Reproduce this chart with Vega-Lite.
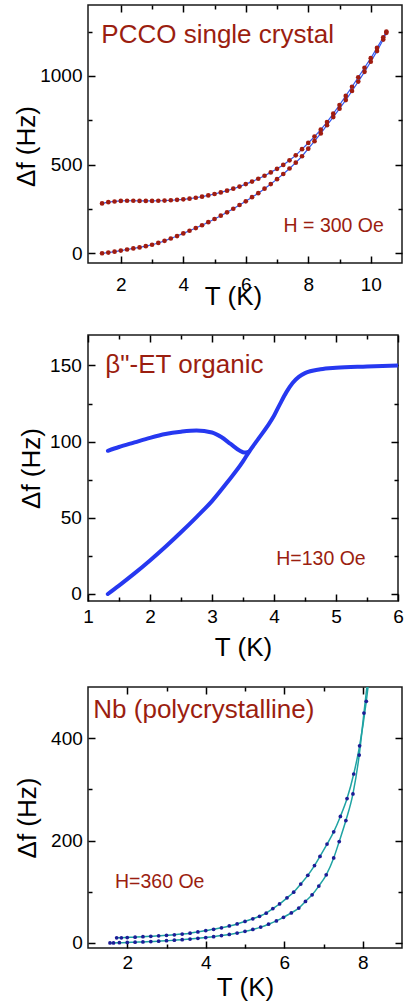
{
  "$schema": "https://vega.github.io/schema/vega-lite/v6.json",
  "padding": {"left": 3, "top": 3, "right": 0, "bottom": 0},
  "background": "white",
  "columns": 1,
  "align": "none",
  "spacing": 23,
  "config": {
    "font": "Liberation Sans",
    "view": {"stroke": "#1a1a1a", "strokeWidth": 1.5},
    "axis": {"grid": false, "labelFont": "Liberation Sans", "labelFontSize": 19, "labelColor": "#000000", "titleFont": "Liberation Sans", "titleFontSize": 26, "titleFontWeight": "normal", "titleColor": "#000000", "tickColor": "#000000", "tickWidth": 1.5, "tickOpacity": 1, "labelFlush": false, "labelOverlap": false, "labelBound": false, "minExtent": 0, "domain": false, "format": "d"},
    "text": {"font": "Liberation Sans"}
  },
  "concat": [
    {
      "width": 314, "height": 258,
      "data": {"values": [
        {"T":1.4,"f":0,"s":"zfc"},{"T":1.6,"f":4,"s":"zfc"},{"T":1.8,"f":9,"s":"zfc"},{"T":2.0,"f":15,"s":"zfc"},{"T":2.2,"f":21,"s":"zfc"},{"T":2.4,"f":27,"s":"zfc"},{"T":2.6,"f":33,"s":"zfc"},{"T":2.8,"f":40,"s":"zfc"},{"T":3.0,"f":48,"s":"zfc"},{"T":3.2,"f":58,"s":"zfc"},{"T":3.4,"f":70,"s":"zfc"},{"T":3.6,"f":83,"s":"zfc"},{"T":3.8,"f":97,"s":"zfc"},{"T":4.0,"f":112,"s":"zfc"},{"T":4.2,"f":127,"s":"zfc"},{"T":4.4,"f":142,"s":"zfc"},{"T":4.6,"f":158,"s":"zfc"},{"T":4.8,"f":175,"s":"zfc"},{"T":5.0,"f":193,"s":"zfc"},{"T":5.2,"f":212,"s":"zfc"},{"T":5.4,"f":231,"s":"zfc"},{"T":5.6,"f":251,"s":"zfc"},{"T":5.8,"f":272,"s":"zfc"},{"T":6.0,"f":293,"s":"zfc"},{"T":6.2,"f":316,"s":"zfc"},{"T":6.4,"f":339,"s":"zfc"},{"T":6.6,"f":364,"s":"zfc"},{"T":6.8,"f":390,"s":"zfc"},{"T":7.0,"f":418,"s":"zfc"},{"T":7.2,"f":447,"s":"zfc"},{"T":7.4,"f":478,"s":"zfc"},{"T":7.6,"f":511,"s":"zfc"},{"T":7.8,"f":547,"s":"zfc"},{"T":8.0,"f":590,"s":"zfc"},{"T":8.2,"f":632,"s":"zfc"},{"T":8.4,"f":676,"s":"zfc"},{"T":8.6,"f":722,"s":"zfc"},{"T":8.8,"f":768,"s":"zfc"},{"T":9.0,"f":815,"s":"zfc"},{"T":9.2,"f":864,"s":"zfc"},{"T":9.4,"f":915,"s":"zfc"},{"T":9.6,"f":968,"s":"zfc"},{"T":9.8,"f":1023,"s":"zfc"},{"T":10.0,"f":1080,"s":"zfc"},{"T":10.2,"f":1140,"s":"zfc"},{"T":10.4,"f":1205,"s":"zfc"},{"T":10.5,"f":1243,"s":"zfc"},
        {"T":1.4,"f":281,"s":"fc"},{"T":1.6,"f":288,"s":"fc"},{"T":1.8,"f":292,"s":"fc"},{"T":2.0,"f":295,"s":"fc"},{"T":2.2,"f":296,"s":"fc"},{"T":2.4,"f":296,"s":"fc"},{"T":2.6,"f":295,"s":"fc"},{"T":2.8,"f":295,"s":"fc"},{"T":3.0,"f":295,"s":"fc"},{"T":3.2,"f":296,"s":"fc"},{"T":3.4,"f":297,"s":"fc"},{"T":3.6,"f":299,"s":"fc"},{"T":3.8,"f":301,"s":"fc"},{"T":4.0,"f":304,"s":"fc"},{"T":4.2,"f":308,"s":"fc"},{"T":4.4,"f":313,"s":"fc"},{"T":4.6,"f":319,"s":"fc"},{"T":4.8,"f":326,"s":"fc"},{"T":5.0,"f":334,"s":"fc"},{"T":5.2,"f":343,"s":"fc"},{"T":5.4,"f":353,"s":"fc"},{"T":5.6,"f":364,"s":"fc"},{"T":5.8,"f":376,"s":"fc"},{"T":6.0,"f":390,"s":"fc"},{"T":6.2,"f":404,"s":"fc"},{"T":6.4,"f":420,"s":"fc"},{"T":6.6,"f":437,"s":"fc"},{"T":6.8,"f":456,"s":"fc"},{"T":7.0,"f":476,"s":"fc"},{"T":7.2,"f":498,"s":"fc"},{"T":7.4,"f":524,"s":"fc"},{"T":7.6,"f":552,"s":"fc"},{"T":7.8,"f":587,"s":"fc"},{"T":8.0,"f":622,"s":"fc"},{"T":8.2,"f":658,"s":"fc"},{"T":8.4,"f":697,"s":"fc"},{"T":8.6,"f":740,"s":"fc"},{"T":8.8,"f":787,"s":"fc"},{"T":9.0,"f":836,"s":"fc"},{"T":9.2,"f":887,"s":"fc"},{"T":9.4,"f":939,"s":"fc"},{"T":9.6,"f":992,"s":"fc"},{"T":9.8,"f":1046,"s":"fc"},{"T":10.0,"f":1100,"s":"fc"},{"T":10.2,"f":1158,"s":"fc"},{"T":10.4,"f":1218,"s":"fc"},{"T":10.5,"f":1250,"s":"fc"}
      ]},
      "layer": [
        {"mark": {"type": "line", "color": "#3358f0", "strokeWidth": 1.2, "clip": true},
         "encoding": {
           "x": {"field": "T", "type": "quantitative", "scale": {"domain": [0.95, 11], "nice": false, "zero": false},
                 "axis": {"orient": "bottom", "values": [2,4,6,8,10], "ticks": true, "tickSize": -7, "tickColor": "#000000", "tickWidth": 1.5, "labelPadding": 19.5, "title": "T (K)", "titlePadding": -11.5, "titleX": 145}},
           "y": {"field": "f", "type": "quantitative", "scale": {"domain": [-55, 1400], "nice": false, "zero": false},
                 "axis": {"orient": "left", "values": [0,500,1000], "ticks": true, "tickSize": -7, "tickColor": "#000000", "tickWidth": 1.5, "labelPadding": 13, "title": "Δf (Hz)", "titlePadding": 0, "titleY": 141}},
           "detail": {"field": "s"}
         }},
        {"mark": {"type": "point", "filled": true, "color": "#a01c10", "size": 22, "opacity": 1, "clip": true},
         "encoding": {"x": {"field": "T", "type": "quantitative", "axis": null}, "y": {"field": "f", "type": "quantitative", "axis": null}}},
        {"mark": {"type": "point", "opacity": 0, "clip": true},
         "encoding": {
           "x": {"field": "T", "type": "quantitative", "axis": {"orient": "top", "values": [2,4,6,8,10], "labels": false, "ticks": true, "tickSize": -7, "tickColor": "#000000", "tickWidth": 1.5, "title": null}},
           "y": {"field": "f", "type": "quantitative", "axis": {"orient": "right", "values": [0,500,1000], "labels": false, "ticks": true, "tickSize": -7, "tickColor": "#000000", "tickWidth": 1.5, "title": null}}}},
        {"mark": {"type": "point", "opacity": 0, "clip": true},
         "encoding": {
           "x": {"field": "T", "type": "quantitative", "axis": {"orient": "bottom", "values": [3,5,7,9], "labels": false, "ticks": true, "tickSize": -4, "tickColor": "#000000", "tickWidth": 1.5, "title": null}},
           "y": {"field": "f", "type": "quantitative", "axis": {"orient": "left", "values": [250,750,1250], "labels": false, "ticks": true, "tickSize": -4, "tickColor": "#000000", "tickWidth": 1.5, "title": ".", "titleX": -83, "titleFontSize": 1, "titleOpacity": 0}}}},
        {"mark": {"type": "point", "opacity": 0, "clip": true},
         "encoding": {
           "x": {"field": "T", "type": "quantitative", "axis": {"orient": "top", "values": [3,5,7,9], "labels": false, "ticks": true, "tickSize": -4, "tickColor": "#000000", "tickWidth": 1.5, "title": null}},
           "y": {"field": "f", "type": "quantitative", "axis": {"orient": "right", "values": [250,750,1250], "labels": false, "ticks": true, "tickSize": -4, "tickColor": "#000000", "tickWidth": 1.5, "title": null}}}},
        {"data": {"values": [{"T": 1.376, "f": 1188, "label": "PCCO single crystal"}]},
         "mark": {"type": "text", "align": "left", "baseline": "alphabetic", "fontSize": 26, "color": "#9b1e10"},
         "encoding": {"x": {"field": "T", "type": "quantitative", "axis": null}, "y": {"field": "f", "type": "quantitative", "axis": null}, "text": {"field": "label"}}},
        {"data": {"values": [{"T": 10.42, "f": 118, "label": "H = 300 Oe"}]},
         "mark": {"type": "text", "align": "right", "baseline": "alphabetic", "fontSize": 19.5, "color": "#9b1e10"},
         "encoding": {"x": {"field": "T", "type": "quantitative", "axis": null}, "y": {"field": "f", "type": "quantitative", "axis": null}, "text": {"field": "label"}}}
      ],
      "resolve": {"axis": {"x": "independent", "y": "independent"}}
    },
    {
      "width": 310, "height": 266,
      "data": {"values": [
        {"T":1.32,"f":0,"s":"a"},{"T":1.5,"f":5.5,"s":"a"},{"T":1.75,"f":13.5,"s":"a"},{"T":2.0,"f":22,"s":"a"},{"T":2.25,"f":31,"s":"a"},{"T":2.5,"f":40.5,"s":"a"},{"T":2.75,"f":50.5,"s":"a"},{"T":3.0,"f":61,"s":"a"},{"T":3.25,"f":73.5,"s":"a"},{"T":3.5,"f":87,"s":"a"},{"T":3.6,"f":93.5,"s":"a"},{"T":3.75,"f":102,"s":"a"},{"T":3.9,"f":110.5,"s":"a"},{"T":4.0,"f":117,"s":"a"},{"T":4.1,"f":125,"s":"a"},{"T":4.2,"f":132.5,"s":"a"},{"T":4.3,"f":138.5,"s":"a"},{"T":4.4,"f":142.5,"s":"a"},{"T":4.5,"f":145,"s":"a"},{"T":4.75,"f":147.5,"s":"a"},{"T":5.0,"f":148.5,"s":"a"},{"T":5.5,"f":149.3,"s":"a"},{"T":6.0,"f":150,"s":"a"},
        {"T":1.32,"f":94,"s":"b"},{"T":1.5,"f":96.5,"s":"b"},{"T":1.75,"f":99.5,"s":"b"},{"T":2.0,"f":102.5,"s":"b"},{"T":2.25,"f":105,"s":"b"},{"T":2.5,"f":106.5,"s":"b"},{"T":2.75,"f":107.3,"s":"b"},{"T":3.0,"f":106,"s":"b"},{"T":3.15,"f":103,"s":"b"},{"T":3.3,"f":98.5,"s":"b"},{"T":3.45,"f":94,"s":"b"},{"T":3.52,"f":92.8,"s":"b"},{"T":3.6,"f":93.5,"s":"b"}
      ]},
      "layer": [
        {"mark": {"type": "line", "color": "#2638f0", "strokeWidth": 4, "strokeCap": "round", "interpolate": "monotone", "clip": true},
         "encoding": {
           "x": {"field": "T", "type": "quantitative", "scale": {"domain": [1, 6], "nice": false, "zero": false},
                 "axis": {"orient": "bottom", "values": [1,2,3,4,5,6], "ticks": true, "tickSize": -7, "tickColor": "#000000", "tickWidth": 1.5, "labelPadding": 13, "title": "T (K)", "titlePadding": 8.5}},
           "y": {"field": "f", "type": "quantitative", "scale": {"domain": [-4.6, 170], "nice": false, "zero": false},
                 "axis": {"orient": "left", "values": [0,50,100,150], "ticks": true, "tickSize": -7, "tickColor": "#000000", "tickWidth": 1.5, "labelPadding": 13.7, "title": "Δf (Hz)", "titlePadding": 5}},
           "detail": {"field": "s"}
         }},
        {"mark": {"type": "point", "opacity": 0, "clip": true},
         "encoding": {
           "x": {"field": "T", "type": "quantitative", "axis": {"orient": "top", "values": [1,2,3,4,5,6], "labels": false, "ticks": true, "tickSize": -7, "tickColor": "#000000", "tickWidth": 1.5, "title": null}},
           "y": {"field": "f", "type": "quantitative", "axis": {"orient": "right", "values": [0,50,100,150], "labels": false, "ticks": true, "tickSize": -7, "tickColor": "#000000", "tickWidth": 1.5, "title": null}}}},
        {"mark": {"type": "point", "opacity": 0, "clip": true},
         "encoding": {
           "x": {"field": "T", "type": "quantitative", "axis": {"orient": "bottom", "values": [1.5,2.5,3.5,4.5,5.5], "labels": false, "ticks": true, "tickSize": -4, "tickColor": "#000000", "tickWidth": 1.5, "title": null}},
           "y": {"field": "f", "type": "quantitative", "axis": {"orient": "left", "values": [25,75,125], "labels": false, "ticks": true, "tickSize": -4, "tickColor": "#000000", "tickWidth": 1.5, "title": ".", "titleX": -83, "titleFontSize": 1, "titleOpacity": 0}}}},
        {"mark": {"type": "point", "opacity": 0, "clip": true},
         "encoding": {
           "x": {"field": "T", "type": "quantitative", "axis": {"orient": "top", "values": [1.5,2.5,3.5,4.5,5.5], "labels": false, "ticks": true, "tickSize": -4, "tickColor": "#000000", "tickWidth": 1.5, "title": null}},
           "y": {"field": "f", "type": "quantitative", "axis": {"orient": "right", "values": [25,75,125], "labels": false, "ticks": true, "tickSize": -4, "tickColor": "#000000", "tickWidth": 1.5, "title": null}}}},
        {"data": {"values": [{"T": 1.28, "f": 144.9, "label": "β\"-ET organic"}]},
         "mark": {"type": "text", "align": "left", "baseline": "alphabetic", "fontSize": 26, "color": "#9b1e10"},
         "encoding": {"x": {"field": "T", "type": "quantitative", "axis": null}, "y": {"field": "f", "type": "quantitative", "axis": null}, "text": {"field": "label"}}},
        {"data": {"values": [{"T": 5.479, "f": 19, "label": "H=130 Oe"}]},
         "mark": {"type": "text", "align": "right", "baseline": "alphabetic", "fontSize": 19.5, "color": "#9b1e10"},
         "encoding": {"x": {"field": "T", "type": "quantitative", "axis": null}, "y": {"field": "f", "type": "quantitative", "axis": null}, "text": {"field": "label"}}}
      ],
      "resolve": {"axis": {"x": "independent", "y": "independent"}}
    },
    {
      "width": 314, "height": 261,
      "data": {"values": [
        {"T":1.56,"f":0,"s":"a"},{"T":1.65,"f":0,"s":"a"},{"T":1.8,"f":0.3,"s":"a"},{"T":2.0,"f":0.8,"s":"a"},{"T":2.2,"f":1.3,"s":"a"},{"T":2.4,"f":1.8,"s":"a"},{"T":2.6,"f":2.5,"s":"a"},{"T":2.8,"f":3.3,"s":"a"},{"T":3.0,"f":4.2,"s":"a"},{"T":3.2,"f":5.2,"s":"a"},{"T":3.4,"f":6.3,"s":"a"},{"T":3.6,"f":7.5,"s":"a"},{"T":3.8,"f":8.9,"s":"a"},{"T":4.0,"f":10.5,"s":"a"},{"T":4.2,"f":12.2,"s":"a"},{"T":4.4,"f":14.2,"s":"a"},{"T":4.6,"f":16.5,"s":"a"},{"T":4.8,"f":19.2,"s":"a"},{"T":5.0,"f":22.5,"s":"a"},{"T":5.2,"f":26.3,"s":"a"},{"T":5.4,"f":30.8,"s":"a"},{"T":5.6,"f":36.5,"s":"a"},{"T":5.8,"f":43,"s":"a"},{"T":5.98,"f":50,"s":"a"},{"T":6.18,"f":58.5,"s":"a"},{"T":6.37,"f":68,"s":"a"},{"T":6.54,"f":81,"s":"a"},{"T":6.71,"f":94,"s":"a"},{"T":6.88,"f":111,"s":"a"},{"T":7.07,"f":133,"s":"a"},{"T":7.26,"f":166,"s":"a"},{"T":7.4,"f":198,"s":"a"},{"T":7.57,"f":239,"s":"a"},{"T":7.75,"f":291,"s":"a"},{"T":7.91,"f":367,"s":"a"},{"T":8.03,"f":449,"s":"a"},{"T":8.15,"f":530,"s":"a"},
        {"T":1.73,"f":9.8,"s":"b"},{"T":1.85,"f":10,"s":"b"},{"T":2.0,"f":10.5,"s":"b"},{"T":2.2,"f":11.2,"s":"b"},{"T":2.4,"f":12,"s":"b"},{"T":2.6,"f":12.8,"s":"b"},{"T":2.8,"f":13.7,"s":"b"},{"T":3.0,"f":14.7,"s":"b"},{"T":3.2,"f":15.8,"s":"b"},{"T":3.4,"f":17.2,"s":"b"},{"T":3.6,"f":19,"s":"b"},{"T":3.8,"f":21.5,"s":"b"},{"T":4.0,"f":24,"s":"b"},{"T":4.2,"f":26.5,"s":"b"},{"T":4.4,"f":29.5,"s":"b"},{"T":4.6,"f":33,"s":"b"},{"T":4.8,"f":37,"s":"b"},{"T":5.0,"f":42,"s":"b"},{"T":5.2,"f":47,"s":"b"},{"T":5.37,"f":52,"s":"b"},{"T":5.54,"f":58,"s":"b"},{"T":5.71,"f":67,"s":"b"},{"T":5.88,"f":76,"s":"b"},{"T":6.07,"f":88,"s":"b"},{"T":6.24,"f":99,"s":"b"},{"T":6.42,"f":115,"s":"b"},{"T":6.6,"f":132,"s":"b"},{"T":6.77,"f":151,"s":"b"},{"T":6.91,"f":169,"s":"b"},{"T":7.09,"f":193,"s":"b"},{"T":7.26,"f":217,"s":"b"},{"T":7.43,"f":247,"s":"b"},{"T":7.6,"f":282,"s":"b"},{"T":7.77,"f":330,"s":"b"},{"T":7.92,"f":385,"s":"b"},{"T":8.09,"f":472,"s":"b"},{"T":8.2,"f":545,"s":"b"}
      ]},
      "layer": [
        {"mark": {"type": "line", "color": "#1fa3a3", "strokeWidth": 1.5, "interpolate": "monotone", "clip": true},
         "encoding": {
           "x": {"field": "T", "type": "quantitative", "scale": {"domain": [1, 9], "nice": false, "zero": false},
                 "axis": {"orient": "bottom", "values": [2,4,6,8], "ticks": true, "tickSize": -7, "tickColor": "#000000", "tickWidth": 1.5, "labelPadding": 12, "title": "T (K)", "titlePadding": 2}},
           "y": {"field": "f", "type": "quantitative", "scale": {"domain": [-10, 500], "nice": false, "zero": false},
                 "axis": {"orient": "left", "values": [0,200,400], "ticks": true, "tickSize": -7, "tickColor": "#000000", "tickWidth": 1.5, "labelPadding": 12.7, "title": "Δf (Hz)", "titlePadding": 9.6}},
           "detail": {"field": "s"}
         }},
        {"mark": {"type": "point", "filled": true, "color": "#1c1c96", "size": 14, "opacity": 1, "clip": true},
         "encoding": {"x": {"field": "T", "type": "quantitative", "axis": null}, "y": {"field": "f", "type": "quantitative", "axis": null}}},
        {"mark": {"type": "point", "opacity": 0, "clip": true},
         "encoding": {
           "x": {"field": "T", "type": "quantitative", "axis": {"orient": "top", "values": [2,4,6,8], "labels": false, "ticks": true, "tickSize": -7, "tickColor": "#000000", "tickWidth": 1.5, "title": null}},
           "y": {"field": "f", "type": "quantitative", "axis": {"orient": "right", "values": [0,200,400], "labels": false, "ticks": true, "tickSize": -7, "tickColor": "#000000", "tickWidth": 1.5, "title": null}}}},
        {"mark": {"type": "point", "opacity": 0, "clip": true},
         "encoding": {
           "x": {"field": "T", "type": "quantitative", "axis": {"orient": "bottom", "values": [3,5,7], "labels": false, "ticks": true, "tickSize": -4, "tickColor": "#000000", "tickWidth": 1.5, "title": null}},
           "y": {"field": "f", "type": "quantitative", "axis": {"orient": "left", "values": [100,300], "labels": false, "ticks": true, "tickSize": -4, "tickColor": "#000000", "tickWidth": 1.5, "title": ".", "titleX": -76, "titleFontSize": 1, "titleOpacity": 0}}}},
        {"mark": {"type": "point", "opacity": 0, "clip": true},
         "encoding": {
           "x": {"field": "T", "type": "quantitative", "axis": {"orient": "top", "values": [3,5,7], "labels": false, "ticks": true, "tickSize": -4, "tickColor": "#000000", "tickWidth": 1.5, "title": null}},
           "y": {"field": "f", "type": "quantitative", "axis": {"orient": "right", "values": [100,300], "labels": false, "ticks": true, "tickSize": -4, "tickColor": "#000000", "tickWidth": 1.5, "title": null}}}},
        {"data": {"values": [{"T": 1.135, "f": 438.8, "label": "Nb (polycrystalline)"}]},
         "mark": {"type": "text", "align": "left", "baseline": "alphabetic", "fontSize": 26, "color": "#9b1e10"},
         "encoding": {"x": {"field": "T", "type": "quantitative", "axis": null}, "y": {"field": "f", "type": "quantitative", "axis": null}, "text": {"field": "label"}}},
        {"data": {"values": [{"T": 1.688, "f": 108, "label": "H=360 Oe"}]},
         "mark": {"type": "text", "align": "left", "baseline": "alphabetic", "fontSize": 19.5, "color": "#9b1e10"},
         "encoding": {"x": {"field": "T", "type": "quantitative", "axis": null}, "y": {"field": "f", "type": "quantitative", "axis": null}, "text": {"field": "label"}}}
      ],
      "resolve": {"axis": {"x": "independent", "y": "independent"}}
    }
  ]
}
